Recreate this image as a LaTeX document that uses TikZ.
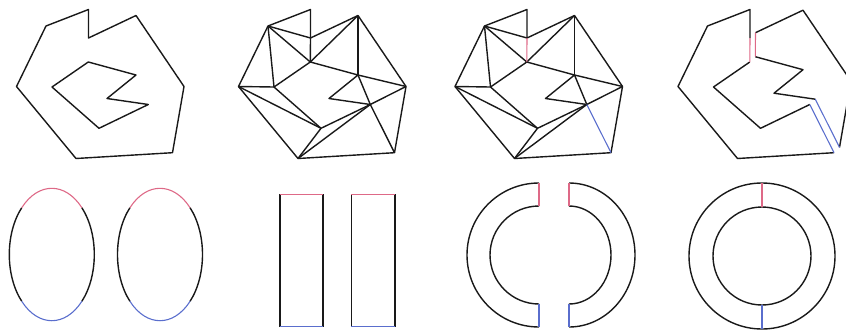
\documentclass[tikz,border=0pt]{standalone}
\usepackage{tikz}

\definecolor{cutred}{RGB}{222,105,135}
\definecolor{cutblue}{RGB}{90,110,205}

% vertices of the polygon with a hole (pixel frame, y downwards)
\newcommand{\polyverts}{%
  \coordinate (A) at (46,26);    \coordinate (B) at (88.5,9.5);
  \coordinate (C) at (88.5,38);  \coordinate (D) at (136,15.5);
  \coordinate (E) at (184,86.5); \coordinate (F) at (172.5,152.7);
  \coordinate (G) at (76,158.5); \coordinate (H) at (16.5,86.5);
  \coordinate (I) at (88.3,62);  \coordinate (J) at (136,75);
  \coordinate (K) at (107,98.5); \coordinate (L) at (148.3,104.5);
  \coordinate (M) at (99,128.3); \coordinate (N) at (52,87);
}

\begin{document}
\begin{tikzpicture}[x=1pt, y=-1pt,
    edge/.style={black!90, line width=1.4pt, line join=round},
    redcut/.style={cutred, line width=1.1pt},
    bluecut/.style={cutblue, line width=1.1pt}]
  \clip (0,0) rectangle (846,330);

  % top row: polygon, triangulation, cuts, opened polygon
  \begin{scope}
    \polyverts
    \draw[edge] (A) -- (B) -- (C) -- (D) -- (E) -- (F) -- (G) -- (H) -- cycle;
    \draw[edge] (I) -- (J) -- (K) -- (L) -- (M) -- (N) -- cycle;
  \end{scope}

  \begin{scope}[xshift=222pt]
    \polyverts
    \draw[edge] (A) -- (B) -- (C) -- (D) -- (E) -- (F) -- (G) -- (H) -- cycle;
    \draw[edge] (I) -- (J) -- (K) -- (L) -- (M) -- (N) -- cycle;
    \foreach \p/\q in {A/C, A/I, A/N, C/I, D/I, D/J, J/E, L/E, J/L, L/F, H/N, H/M, G/M, G/L}
      \draw[edge] (\p) -- (\q);
  \end{scope}

  \begin{scope}[xshift=438.5pt]
    \polyverts
    \draw[edge] (A) -- (B) -- (C) -- (D) -- (E) -- (F) -- (G) -- (H) -- cycle;
    \draw[edge] (I) -- (J) -- (K) -- (L) -- (M) -- (N) -- cycle;
    \foreach \p/\q in {A/C, A/I, A/N, D/I, D/J, J/E, L/E, J/L, H/N, H/M, G/M, G/L}
      \draw[edge] (\p) -- (\q);
    \draw[redcut] (C) -- (I);
    \draw[bluecut] (L) -- (F);
  \end{scope}

  \begin{scope}[xshift=661.5pt]
    \polyverts
    \draw[edge] (C) -- (B) -- (A) -- (H) -- (G) -- (F);
    \draw[edge] (L) -- (M) -- (N) -- (I);
    \draw[redcut] (I) -- (C);
    \draw[bluecut] (F) -- (L);
  \end{scope}

  \begin{scope}[xshift=667pt, yshift=5.3pt]
    \polyverts
    \draw[edge] (C) -- (D) -- (E) -- (F);
    \draw[edge] (L) -- (K) -- (J) -- (I);
    \draw[redcut] (I) -- (C);
    \draw[bluecut] (F) -- (L);
  \end{scope}

  % bottom row: ellipses
  \foreach \cx in {51.8, 160} {
    \draw[edge] (\cx,254.5) ++(135:42.5 and 66.2)
      arc[start angle=135, end angle=225, x radius=42.5, y radius=66.2];
    \draw[edge] (\cx,254.5) ++(-45:42.5 and 66.2)
      arc[start angle=-45, end angle=45, x radius=42.5, y radius=66.2];
    \draw[redcut] (\cx,254.5) ++(225:42.5 and 66.2)
      arc[start angle=225, end angle=315, x radius=42.5, y radius=66.2];
    \draw[bluecut] (\cx,254.5) ++(45:42.5 and 66.2)
      arc[start angle=45, end angle=135, x radius=42.5, y radius=66.2];
  }

  % rectangles
  \foreach \xl/\xr in {279.7/322.7, 351.3/394.7} {
    \draw[edge, line width=1.6pt] (\xl,194.3) -- (\xl,326.7);
    \draw[edge, line width=1.6pt] (\xr,194.3) -- (\xr,326.7);
    \draw[redcut] (\xl,194.3) -- (\xr,194.3);
    \draw[bluecut] (\xl,326.7) -- (\xr,326.7);
  }

  % two half rings
  \coordinate (lc) at (539,255);
  \coordinate (rc) at (569,255);
  \draw[edge] (lc) ++(0,-72) arc[start angle=270, end angle=90, x radius=72, y radius=72];
  \draw[edge] (lc) ++(0,-49) arc[start angle=270, end angle=90, x radius=49, y radius=49];
  \draw[redcut] ([yshift=72pt]lc) -- ([yshift=49pt]lc);
  \draw[bluecut] ([yshift=-49pt]lc) -- ([yshift=-72pt]lc);
  \draw[edge] (rc) ++(0,-72) arc[start angle=-90, end angle=90, x radius=66, y radius=72];
  \draw[edge] (rc) ++(0,-49) arc[start angle=-90, end angle=90, x radius=42, y radius=49];
  \draw[redcut] ([yshift=72pt]rc) -- ([yshift=49pt]rc);
  \draw[bluecut] ([yshift=-49pt]rc) -- ([yshift=-72pt]rc);

  % closed ring
  \coordinate (oc) at (762,256);
  \draw[edge] (oc) circle[radius=73];
  \draw[edge] (oc) circle[radius=49];
  \draw[redcut] ([yshift=73pt]oc) -- ([yshift=49pt]oc);
  \draw[bluecut] ([yshift=-49pt]oc) -- ([yshift=-73pt]oc);
\end{tikzpicture}
\end{document}
